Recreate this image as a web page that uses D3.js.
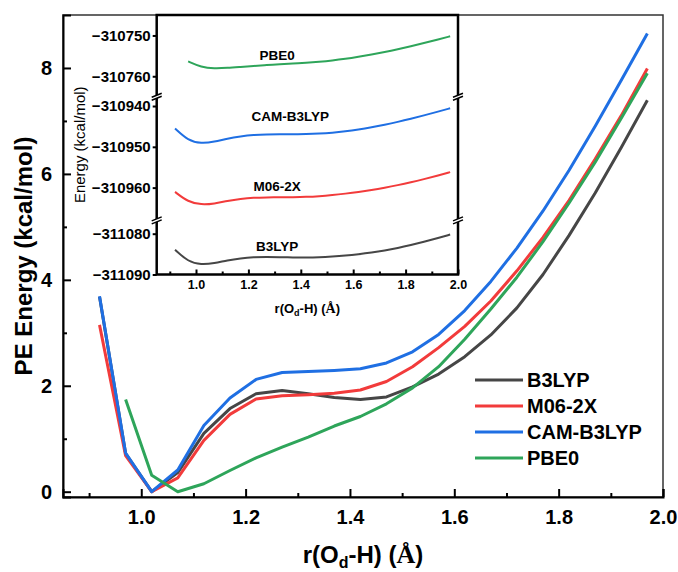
<!DOCTYPE html>
<html>
<head>
<meta charset="utf-8">
<script src="https://cdn.jsdelivr.net/npm/d3@7"></script>
<style>
  body { margin: 0; background: #fff; }
  text { font-family: Arial, "Liberation Sans", sans-serif; }
</style>
</head>
<body>
<svg id="chart" width="678" height="572"></svg>
<script>
// r(Od-H) in Angstrom
var rValues = [0.92, 0.97, 1.02, 1.07, 1.12, 1.17, 1.22, 1.27, 1.32, 1.37, 1.42,
               1.47, 1.52, 1.57, 1.62, 1.67, 1.72, 1.77, 1.82, 1.87, 1.92, 1.97];

// relative PE (kcal/mol)
var b3lyp = [3.68, 0.72, 0.00, 0.36, 1.10, 1.57, 1.85, 1.91, 1.85, 1.78, 1.74,
             1.79, 1.98, 2.22, 2.55, 2.96, 3.47, 4.10, 4.84, 5.64, 6.50, 7.39];
var m062x = [3.15, 0.68, 0.00, 0.26, 0.97, 1.46, 1.75, 1.81, 1.83, 1.86, 1.92,
             2.08, 2.36, 2.72, 3.12, 3.60, 4.17, 4.80, 5.50, 6.28, 7.10, 7.99];
var camb3lyp = [3.69, 0.73, 0.00, 0.41, 1.25, 1.77, 2.12, 2.25, 2.27, 2.29, 2.32,
                2.43, 2.64, 2.97, 3.42, 3.97, 4.60, 5.30, 6.07, 6.90, 7.77, 8.65];
var pbe0 = [null, 1.74, 0.31, 0.00, 0.15, 0.40, 0.64, 0.84, 1.03, 1.24, 1.42,
            1.66, 1.96, 2.36, 2.88, 3.45, 4.05, 4.72, 5.45, 6.22, 7.05, 7.90];

var methods = ["B3LYP", "M06-2X", "CAM-B3LYP", "PBE0"];
// absolute energy of the minimum (kcal/mol), used in the inset
var baseEnergy = [-311087.6, -310964.2, -310949.2, -310758.1];

var xTicks = [1.0, 1.2, 1.4, 1.6, 1.8, 2.0];
var xMinor = [0.9, 1.1, 1.3, 1.5, 1.7, 1.9];
var yTicks = [0, 2, 4, 6, 8];
var yMinor = [1, 3, 5, 7];

// inset broken y axis, bottom segment first
var insetDomains = [[-311090, -311077], [-310968, -310938], [-310765, -310745]];
var insetTicks = [[-311090, -311080], [-310960, -310950, -310940], [-310760, -310750]];
var insetSegment = [0, 1, 1, 2];

var colors = ["#464646", "#f23b3b", "#1f6fe3", "#2ea55a"];
var allSeries = [b3lyp, m062x, camb3lyp, pbe0];

var series = methods.map(function (m, i) {
  return {
    name: m, color: colors[i], seg: insetSegment[i], base: baseEnergy[i],
    pts: rValues.map(function (r, j) { return [r, allSeries[i][j]]; })
      .filter(function (d) { return d[1] != null; })
  };
});

var svg = d3.select("#chart");
var fmt = d3.format(".1f");

// ---------- main plot ----------
var M = { left: 63, right: 663, top: 15, bottom: 497 };
var x = d3.scaleLinear().domain([0.85, 2.0]).range([M.left, M.right]);
var y = d3.scaleLinear().domain([-0.1, 9.0]).range([M.bottom, M.top]);

svg.append("rect")
  .attr("x", M.left).attr("y", M.top)
  .attr("width", M.right - M.left).attr("height", M.bottom - M.top)
  .attr("fill", "none").attr("stroke", "#333").attr("stroke-width", 1.5);

var line = d3.line().x(function (d) { return x(d[0]); }).y(function (d) { return y(d[1]); });

svg.append("g").selectAll("path").data(series).enter().append("path")
  .attr("d", function (d) { return line(d.pts); })
  .attr("fill", "none")
  .attr("stroke", function (d) { return d.color; })
  .attr("stroke-width", 3)
  .attr("stroke-linejoin", "round");

var xAxis = svg.append("g").attr("transform", "translate(0," + M.bottom + ")")
  .call(d3.axisBottom(x).tickValues(xTicks).tickFormat(fmt).tickSize(-8).tickPadding(13));
svg.append("g").attr("transform", "translate(0," + M.bottom + ")")
  .call(d3.axisBottom(x).tickValues(xMinor).tickFormat("").tickSize(-4))
  .select(".domain").remove();
var yAxis = svg.append("g").attr("transform", "translate(" + M.left + ",0)")
  .call(d3.axisLeft(y).tickValues(yTicks).tickSize(-8).tickPadding(11));
svg.append("g").attr("transform", "translate(" + M.left + ",0)")
  .call(d3.axisLeft(y).tickValues(yMinor).tickFormat("").tickSize(-4))
  .select(".domain").remove();

[xAxis, yAxis].forEach(function (g) {
  g.select(".domain").attr("stroke", "#000").attr("stroke-width", 2);
  g.selectAll(".tick text").attr("font-size", 20).attr("font-weight", "bold").attr("fill", "#000");
});

// axis titles
var xt = svg.append("text").attr("x", (M.left + M.right) / 2).attr("y", 563)
  .attr("text-anchor", "middle").attr("font-size", 24).attr("font-weight", "bold");
xt.append("tspan").text("r(O");
xt.append("tspan").attr("font-size", 16).attr("dy", 5).text("d");
xt.append("tspan").attr("dy", -5).text("-H) (");
xt.append("tspan").attr("font-family", "'Liberation Serif', serif").attr("font-size", 26).text("Å");
xt.append("tspan").text(")");

svg.append("text")
  .attr("transform", "translate(32," + (M.top + M.bottom) / 2 + ") rotate(-90)")
  .attr("text-anchor", "middle").attr("font-size", 24).attr("font-weight", "bold")
  .text("PE Energy (kcal/mol)");

// legend
var leg = svg.append("g").attr("transform", "translate(475,380)");
var li = leg.selectAll("g").data(series).enter().append("g")
  .attr("transform", function (d, i) { return "translate(0," + i * 26 + ")"; });
li.append("line").attr("x1", 0).attr("x2", 48)
  .attr("stroke", function (d) { return d.color; }).attr("stroke-width", 3);
li.append("text").attr("x", 52).attr("y", 7)
  .attr("font-size", 20).attr("font-weight", "bold").text(function (d) { return d.name; });

// ---------- inset ----------
var I = { left: 156.7, right: 458, top: 15, bottom: 274.5 };
var ix = d3.scaleLinear().domain([0.85, 2.0]).range([I.left, I.right]);
var k = 4.08, gap = 1.2;
var iy = [];
var yb = I.bottom;
insetDomains.forEach(function (dom) {
  var h = (dom[1] - dom[0]) * k;
  iy.push(d3.scaleLinear().domain(dom).range([yb, yb - h]));
  yb = yb - h - gap;
});

svg.append("rect")
  .attr("x", I.left).attr("y", I.top)
  .attr("width", I.right - I.left).attr("height", I.bottom - I.top)
  .attr("fill", "#fff");

series.forEach(function (s) {
  var sc = iy[s.seg];
  var l = d3.line().curve(d3.curveBasis)
    .x(function (d) { return ix(d[0]); })
    .y(function (d) { return sc(d[1] + s.base); });
  svg.append("path").attr("d", l(s.pts))
    .attr("fill", "none").attr("stroke", s.color).attr("stroke-width", 2);
});

svg.append("rect")
  .attr("x", I.left).attr("y", I.top)
  .attr("width", I.right - I.left).attr("height", I.bottom - I.top)
  .attr("fill", "none").attr("stroke", "#000").attr("stroke-width", 2.5);

var ixAxis = svg.append("g").attr("transform", "translate(0," + I.bottom + ")")
  .call(d3.axisBottom(ix).tickValues(xTicks).tickFormat(fmt).tickSize(-5).tickPadding(6));
svg.append("g").attr("transform", "translate(0," + I.bottom + ")")
  .call(d3.axisBottom(ix).tickValues(xMinor).tickFormat("").tickSize(-3))
  .select(".domain").remove();
ixAxis.select(".domain").remove();
ixAxis.selectAll(".tick text").attr("font-size", 12.5).attr("font-weight", "bold");

iy.forEach(function (sc, i) {
  var g = svg.append("g").attr("transform", "translate(" + I.left + ",0)")
    .call(d3.axisLeft(sc).tickValues(insetTicks[i]).tickSize(4).tickPadding(2)
      .tickFormat(function (v) { return "\u2212" + Math.abs(v); }));
  g.select(".domain").remove();
  g.selectAll(".tick text").attr("font-size", 15).attr("font-weight", "bold");
});
svg.selectAll(".tick line").attr("stroke", "#000").attr("stroke-width", 2);

// break marks
[iy[0].range()[1] - gap / 2, iy[1].range()[1] - gap / 2].forEach(function (yy) {
  [I.left, I.right].forEach(function (xx) {
    svg.append("polygon")
      .attr("points", [[xx - 5, yy + 3], [xx + 5, yy - 1], [xx + 5, yy - 4], [xx - 5, yy]].join(" "))
      .attr("fill", "#fff");
    svg.append("line").attr("x1", xx - 5).attr("y1", yy).attr("x2", xx + 5).attr("y2", yy - 4)
      .attr("stroke", "#000").attr("stroke-width", 1.5);
    svg.append("line").attr("x1", xx - 5).attr("y1", yy + 3).attr("x2", xx + 5).attr("y2", yy - 1)
      .attr("stroke", "#000").attr("stroke-width", 1.5);
  });
});

// inset labels
var labelPos = [[1.31, -311083.0], [1.31, -310959.5], [1.36, -310942.5], [1.31, -310754.9]];
series.forEach(function (s, i) {
  svg.append("text")
    .attr("x", ix(labelPos[i][0]))
    .attr("y", iy[s.seg](labelPos[i][1]) + 5)
    .attr("text-anchor", "middle").attr("font-size", 13.5).attr("font-weight", "bold")
    .text(s.name);
});

var ixt = svg.append("text").attr("x", (I.left + I.right) / 2).attr("y", 313)
  .attr("text-anchor", "middle").attr("font-size", 13).attr("font-weight", "bold");
ixt.append("tspan").text("r(O");
ixt.append("tspan").attr("font-size", 9).attr("dy", 3).text("d");
ixt.append("tspan").attr("dy", -3).text("-H) (");
ixt.append("tspan").attr("font-family", "'Liberation Serif', serif").attr("font-size", 14).text("Å");
ixt.append("tspan").text(")");

svg.append("text")
  .attr("transform", "translate(85," + (I.top + I.bottom) / 2 + ") rotate(-90)")
  .attr("text-anchor", "middle").attr("font-size", 15)
  .text("Energy (kcal/mol)");
</script>
</body>
</html>
